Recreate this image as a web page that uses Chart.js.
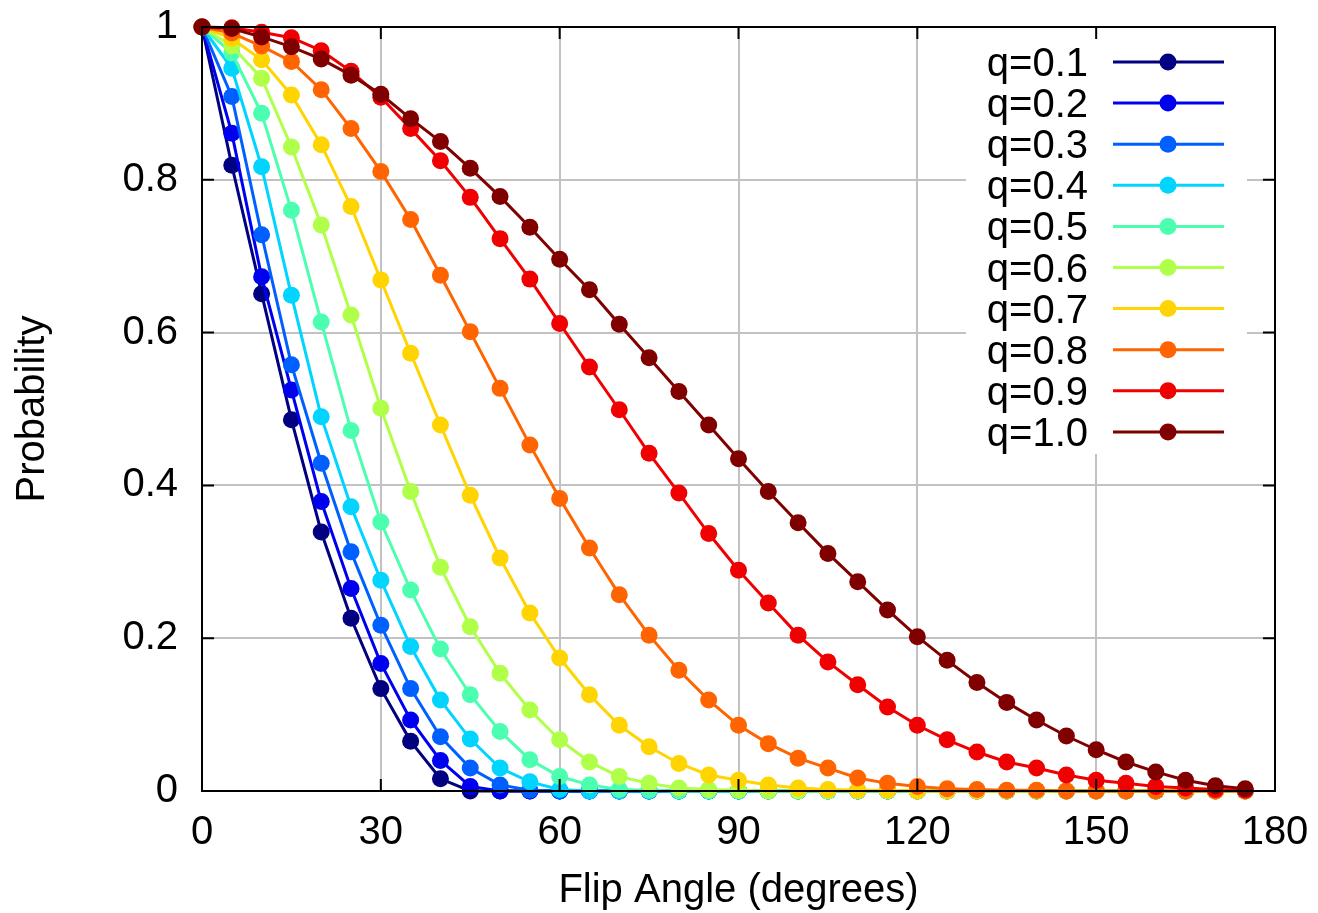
<!DOCTYPE html>
<html>
<head>
<meta charset="utf-8">
<title>Flip angle probability</title>
<script src="https://cdn.jsdelivr.net/npm/chart.js@4.4.0/dist/chart.umd.min.js"></script>
<style>
  body { margin: 0; background: #fff; }
  #chart-box { position: relative; width: 1318px; height: 913px; }
</style>
</head>
<body>
<div id="chart-box"><canvas id="myChart"></canvas></div>
<script>
// flip angles (degrees), one point every 5 degrees
const angles = [0,5,10,15,20,25,30,35,40,45,50,55,60,65,70,75,80,85,90,95,100,105,110,115,120,125,130,135,140,145,150,155,160,165,170,175]

// probability for each q
const q01 = [1.000,0.819,0.651,0.486,0.339,0.226,0.134,0.065,0.016,0,0,0,0,0,0,0,0,0,0,0,0,0,0,0,0,0,0,0,0,0,0,0,0,0,0,0]
const q02 = [1.000,0.861,0.673,0.525,0.379,0.265,0.167,0.093,0.040,0.006,0,0,0,0,0,0,0,0,0,0,0,0,0,0,0,0,0,0,0,0,0,0,0,0,0,0]
const q03 = [1.000,0.909,0.728,0.558,0.429,0.313,0.217,0.134,0.071,0.030,0.008,0.001,0,0,0,0,0,0,0,0,0,0,0,0,0,0,0,0,0,0,0,0,0,0,0,0]
const q04 = [1.000,0.946,0.817,0.649,0.490,0.372,0.276,0.189,0.119,0.068,0.030,0.012,0.002,0,0,0,0,0,0,0,0,0,0,0,0,0,0,0,0,0,0,0,0,0,0,0]
const q05 = [1.000,0.966,0.887,0.760,0.614,0.472,0.352,0.263,0.186,0.126,0.078,0.041,0.019,0.008,0.002,0.001,0,0,0,0,0,0,0,0,0,0,0,0,0,0,0,0,0,0,0,0]
const q06 = [1.000,0.975,0.933,0.843,0.741,0.623,0.501,0.392,0.293,0.215,0.154,0.106,0.067,0.038,0.019,0.010,0.004,0.002,0.001,0,0,0,0,0,0,0,0,0,0,0,0,0,0,0,0,0]
const q07 = [1.000,0.985,0.957,0.911,0.846,0.765,0.669,0.573,0.479,0.387,0.305,0.233,0.174,0.126,0.086,0.058,0.036,0.021,0.014,0.008,0.004,0.002,0.001,0.001,0,0,0,0,0,0,0,0,0,0,0,0]
const q08 = [1.000,0.992,0.975,0.955,0.918,0.867,0.811,0.748,0.675,0.601,0.527,0.453,0.383,0.318,0.257,0.204,0.158,0.119,0.086,0.062,0.043,0.030,0.017,0.010,0.006,0.003,0.002,0.001,0.001,0,0,0,0,0,0,0]
const q09 = [1.000,0.999,0.993,0.986,0.969,0.942,0.908,0.867,0.825,0.777,0.723,0.670,0.612,0.555,0.499,0.442,0.390,0.337,0.289,0.246,0.204,0.169,0.139,0.110,0.086,0.067,0.051,0.038,0.030,0.021,0.014,0.010,0.006,0.004,0.002,0.001]
const q10 = [1.000,0.998,0.987,0.974,0.958,0.937,0.912,0.880,0.850,0.815,0.778,0.738,0.696,0.656,0.611,0.567,0.523,0.479,0.435,0.392,0.351,0.311,0.274,0.237,0.202,0.171,0.142,0.116,0.093,0.072,0.054,0.038,0.025,0.014,0.007,0.003]

const seriesNames = ['q=0.1','q=0.2','q=0.3','q=0.4','q=0.5','q=0.6','q=0.7','q=0.8','q=0.9','q=1.0']
const seriesColors = ['#000080','#0000f0','#0060ff','#00d4ff','#4cffb0','#b0ff48','#ffd400','#ff6400','#f00000','#800000']

const xTicks = [0,30,60,90,120,150,180]
const yTicks = [0,0.2,0.4,0.6,0.8,1]

const allSeries = [q01,q02,q03,q04,q05,q06,q07,q08,q09,q10]
const FONT = '"Liberation Sans", Arial, Helvetica, sans-serif'

Chart.defaults.font.family = FONT
Chart.defaults.color = '#000'

let datasets = []
for (let i = 0; i < allSeries.length; i++) {
  datasets.push({
    label: seriesNames[i],
    data: angles.map((a, k) => ({ x: a, y: allSeries[i][k] })),
    borderColor: seriesColors[i],
    backgroundColor: seriesColors[i],
    borderWidth: 3,
    pointRadius: 8.5,
    pointBorderWidth: 0,
    pointBackgroundColor: seriesColors[i],
    tension: 0,
    clip: false,
    order: allSeries.length - 1 - i   // q=1.0 drawn on top, like gnuplot
  })
}

// key box in the upper right, drawn over the grid
const keyBox = {
  id: 'keyBox',
  beforeDatasetsDraw(chart) {
    const ctx = chart.ctx
    ctx.save()
    ctx.fillStyle = '#fff'
    ctx.fillRect(966, 29, 281, 425)
    ctx.font = '40px ' + FONT
    ctx.textAlign = 'right'
    ctx.textBaseline = 'alphabetic'
    for (let i = 0; i < seriesNames.length; i++) {
      const y = 62 + i * 41.1
      ctx.fillStyle = '#000'
      ctx.fillText(seriesNames[i], 1088, y + 14)
      ctx.strokeStyle = seriesColors[i]
      ctx.lineWidth = 3
      ctx.beginPath()
      ctx.moveTo(1113, y)
      ctx.lineTo(1224, y)
      ctx.stroke()
      ctx.fillStyle = seriesColors[i]
      ctx.beginPath()
      ctx.arc(1168, y, 8.5, 0, Math.PI * 2)
      ctx.fill()
    }
    ctx.restore()
  }
}

// black frame with inward tick marks on all four sides
const frame = {
  id: 'frame',
  afterDatasetsDraw(chart) {
    const ctx = chart.ctx
    const a = chart.chartArea
    const xs = chart.scales.x
    const ys = chart.scales.y
    const tl = 12
    ctx.save()
    ctx.strokeStyle = '#000'
    ctx.lineWidth = 2
    ctx.strokeRect(a.left, a.top, a.right - a.left, a.bottom - a.top)
    ctx.beginPath()
    xTicks.forEach(v => {
      const px = xs.getPixelForValue(v)
      ctx.moveTo(px, a.bottom); ctx.lineTo(px, a.bottom - tl)
      ctx.moveTo(px, a.top); ctx.lineTo(px, a.top + tl)
    })
    yTicks.forEach(v => {
      const py = ys.getPixelForValue(v)
      ctx.moveTo(a.left, py); ctx.lineTo(a.left + tl, py)
      ctx.moveTo(a.right, py); ctx.lineTo(a.right - tl, py)
    })
    ctx.stroke()
    ctx.restore()
  }
}

const config = {
  type: 'line',
  data: { datasets: datasets },
  options: {
    responsive: true,
    maintainAspectRatio: false,
    animation: false,
    layout: { padding: { left: 0, top: 27, right: 43, bottom: 0 } },
    plugins: { legend: { display: false }, tooltip: { enabled: false } },
    scales: {
      x: {
        type: 'linear',
        min: 0,
        max: 180,
        afterBuildTicks: s => { s.ticks = xTicks.map(v => ({ value: v })) },
        afterFit: s => { s.height = 122; s.paddingLeft = 0; s.paddingRight = 0 },
        border: { display: false },
        grid: { color: '#c2c2c2', lineWidth: 2, drawTicks: false },
        ticks: { padding: 18, font: { size: 40 }, color: '#000' },
        title: { display: true, text: 'Flip Angle (degrees)', font: { size: 40 }, color: '#000', padding: { top: 0, bottom: -2 } }
      },
      y: {
        type: 'linear',
        min: 0,
        max: 1,
        afterBuildTicks: s => { s.ticks = yTicks.map(v => ({ value: v })) },
        afterFit: s => { s.width = 202; s.paddingTop = 0; s.paddingBottom = 0 },
        border: { display: false },
        grid: { color: '#c2c2c2', lineWidth: 2, drawTicks: false },
        ticks: { padding: 24, font: { size: 40 }, color: '#000', callback: v => String(+v.toFixed(1)) },
        title: { display: true, text: 'Probability', font: { size: 40 }, color: '#000', padding: { top: 9, bottom: 0 } }
      }
    }
  },
  plugins: [keyBox, frame]
}

const myChart = new Chart(document.getElementById('myChart'), config)
</script>
</body>
</html>
